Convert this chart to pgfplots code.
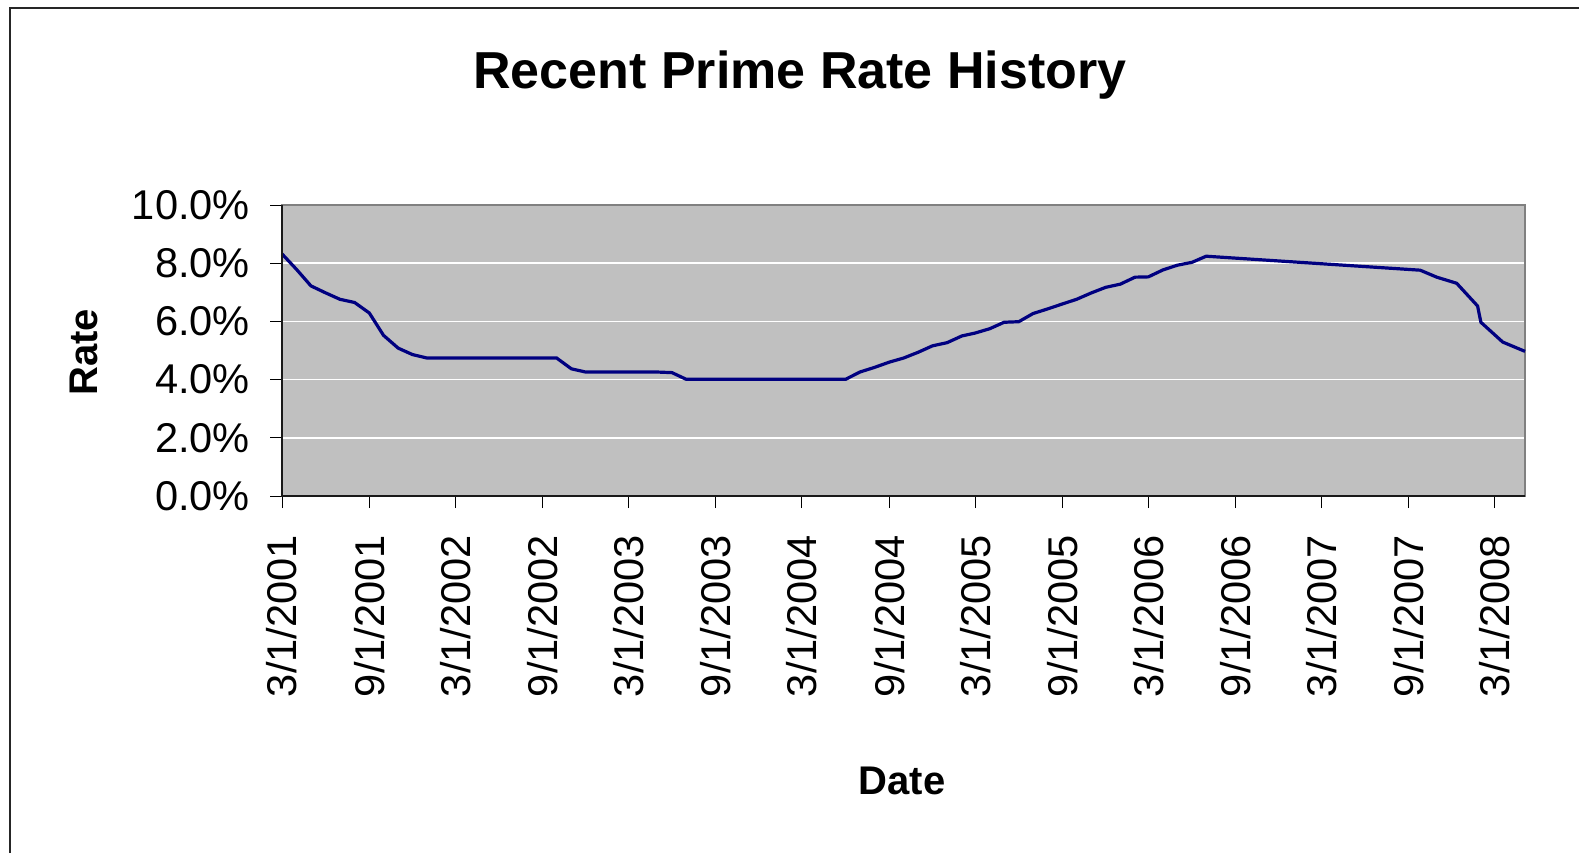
\documentclass[border=0pt]{standalone}
\usepackage{pgfplots}
\pgfplotsset{compat=1.18}
\usepackage{pgfplotstable}
\usepackage{fontspec}
\setmainfont{Liberation Sans}
\definecolor{plotgray}{HTML}{C0C0C0}
\definecolor{bordergray}{HTML}{808080}
\definecolor{navyline}{HTML}{000080}

\pgfplotstableread{
d r
0 8.32
31 7.78
61 7.22
92 6.98
122 6.76
153 6.65
184 6.29
214 5.52
245 5.08
275 4.86
306 4.74
337 4.74
365 4.74
396 4.74
426 4.74
457 4.74
487 4.74
518 4.74
549 4.74
579 4.74
610 4.37
640 4.26
671 4.26
702 4.26
730 4.26
761 4.26
791 4.26
822 4.24
852 4.01
883 4.01
914 4.01
944 4.01
975 4.01
1005 4.01
1036 4.01
1067 4.01
1096 4.01
1127 4.01
1157 4.01
1188 4.01
1218 4.26
1249 4.42
1280 4.60
1310 4.74
1341 4.94
1371 5.16
1402 5.27
1433 5.50
1461 5.60
1492 5.75
1522 5.97
1553 5.99
1583 6.27
1614 6.43
1645 6.60
1675 6.76
1706 6.98
1736 7.17
1767 7.28
1798 7.52
1826 7.53
1857 7.77
1887 7.93
1918 8.03
1948 8.24
2399 7.76
2434 7.52
2476 7.31
2520 6.53
2527 5.97
2573 5.29
2620 4.97
}\primerate

\begin{document}
\begin{tikzpicture}
\path[use as bounding box] (0,0) rectangle (789.5pt,426.5pt);
\draw[line width=1pt, black!85] (5pt,0) -- (5pt,422.6pt) -- (789.5pt,422.6pt);
\begin{axis}[
  at={(141pt,178.5pt)}, anchor=south west,
  scale only axis, width=621.5pt, height=145.5pt,
  xmin=0, xmax=2620, ymin=0, ymax=10,
  axis background/.style={fill=plotgray},
  axis line style={draw=bordergray, line width=1.4pt},
  ytick={0,2,4,6,8,10},
  yticklabels={0.0\%,2.0\%,4.0\%,6.0\%,8.0\%,10.0\%},
  ymajorgrids,
  major grid style={white, line width=0.75pt},
  xtick={0,184,365,549,730,914,1096,1280,1461,1645,1826,2010,2191,2375,2556},
  xticklabels={3/1/2001,9/1/2001,3/1/2002,9/1/2002,3/1/2003,9/1/2003,3/1/2004,9/1/2004,3/1/2005,9/1/2005,3/1/2006,9/1/2006,3/1/2007,9/1/2007,3/1/2008},
  xtick pos=bottom, ytick pos=left,
  tick align=outside,
  major tick length=6pt,
  tick style={black, line width=0.5pt},
  tick label style={font=\fontsize{20.8}{25}\selectfont},
  x tick label style={rotate=90, anchor=east},
  y tick label style={anchor=east},
  xticklabel shift=10pt,
  yticklabel shift=6.5pt,
  clip=false,
]
\addplot[navyline, line width=1.6pt] table[x=d, y=r] {\primerate};
\draw[black!90, line width=0.8pt] (rel axis cs:0,1) -- (rel axis cs:0,0) -- (rel axis cs:1,0);
\end{axis}
\node[anchor=base, font=\bfseries\fontsize{26}{30}\selectfont] at (400pt,382.2pt) {Recent Prime Rate History};
\node[anchor=base, font=\bfseries\fontsize{20}{24}\selectfont] at (451pt,29.25pt) {Date};
\node[anchor=base, rotate=90, font=\bfseries\fontsize{20}{24}\selectfont] at (48.8pt,250.25pt) {Rate};
\end{tikzpicture}
\end{document}
